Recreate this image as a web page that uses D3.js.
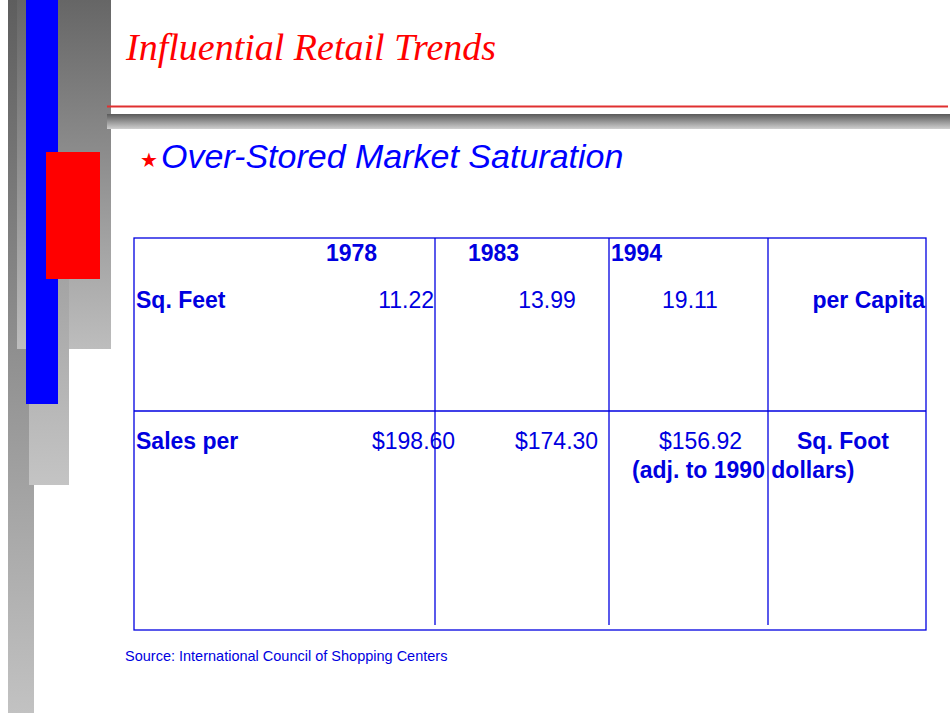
<!DOCTYPE html>
<html><head><meta charset="utf-8">
<script src="https://d3js.org/d3.v7.min.js"></script>
<style>body{margin:0;background:#fff}</style></head>
<body><svg id="c" width="950" height="713"></svg>
<script>
const years = ["1978", "1983", "1994"];
const sqFeetPerCapita = [11.22, 13.99, 19.11];
const salesPerSqFoot = [198.60, 174.30, 156.92];
const rowLabels = ["Sq. Feet", "Sales per"];
const unitLabels = ["per Capita", "Sq. Foot"];

const svg = d3.select("#c");
const defs = svg.append("defs");
function grad(id, a, b, vertical = true) {
  const g = defs.append("linearGradient").attr("id", id).attr("x1", 0).attr("y1", 0).attr("x2", 0).attr("y2", 1);
  g.append("stop").attr("offset", 0).attr("stop-color", a);
  g.append("stop").attr("offset", 1).attr("stop-color", b);
}
grad("g1", "#5e5e5e", "#c2c2c2");
grad("g2", "#666", "#bdbdbd");
grad("g3", "#a0a0a0", "#c4c4c4");
grad("g4", "#5a5a5a", "#cfcfcf");

svg.append("rect").attr("x", 8).attr("y", 0).attr("width", 26).attr("height", 713).attr("fill", "url(#g1)");
svg.append("rect").attr("x", 17).attr("y", 0).attr("width", 94).attr("height", 349).attr("fill", "url(#g2)");
svg.append("rect").attr("x", 29).attr("y", 256).attr("width", 40).attr("height", 229).attr("fill", "url(#g3)");
svg.append("rect").attr("x", 26).attr("y", 0).attr("width", 32).attr("height", 404).attr("fill", "#0000ff");
svg.append("rect").attr("x", 46).attr("y", 112).attr("width", 54).attr("height", 92).attr("fill", "none");
svg.append("rect").attr("x", 46).attr("y", 152).attr("width", 54).attr("height", 127).attr("fill", "#ff0000");
svg.append("rect").attr("x", 107).attr("y", 114).attr("width", 843).attr("height", 15).attr("fill", "url(#g4)");
svg.append("line").attr("x1", 107).attr("x2", 948).attr("y1", 106.5).attr("y2", 106.5).attr("stroke", "#e03030").attr("stroke-width", 2);

svg.append("text").attr("x", 126).attr("y", 60).attr("fill", "#ff0000")
  .style("font-family", "Liberation Serif, serif").style("font-style", "italic").style("font-size", "38px")
  .text("Influential Retail Trends");
svg.append("text").attr("x", 140).attr("y", 167).attr("fill", "#ff0000").style("font-size", "20px")
  .style("font-family", "DejaVu Sans").text("★");
svg.append("text").attr("x", 161).attr("y", 168).attr("fill", "#0000ff")
  .style("font-family", "Liberation Sans, Arial").style("font-style", "italic").style("font-size", "34px")
  .text("Over-Stored Market Saturation");

const blue = "#0000e0";
const T = {x0: 134, x1: 926, y0: 238, y1: 630, ymid: 411};
const colEdges = d3.scaleOrdinal().domain(years.concat(["unit"])).range([435, 609, 768, 926]);
const g = svg.append("g");
g.append("rect").attr("x", T.x0).attr("y", T.y0).attr("width", T.x1 - T.x0).attr("height", T.y1 - T.y0)
  .attr("fill", "none").attr("stroke", blue).attr("stroke-width", 1.3);
g.append("line").attr("x1", T.x0).attr("x2", T.x1).attr("y1", T.ymid).attr("y2", T.ymid).attr("stroke", blue).attr("stroke-width", 1.3);
g.selectAll("line.v").data(years).join("line").attr("class", "v")
  .attr("x1", d => colEdges(d)).attr("x2", d => colEdges(d)).attr("y1", T.y0).attr("y2", 625)
  .attr("stroke", blue).attr("stroke-width", 1.3);

const font = "Liberation Sans, Arial, sans-serif";
function txt(x, y, s, bold, anchor = "start") {
  return g.append("text").attr("x", x).attr("y", y).attr("fill", blue).attr("text-anchor", anchor)
    .style("font-family", font).style("font-size", "23px").style("font-weight", bold ? "bold" : "normal").text(s);
}
const headerX = [326, 468, 611];
years.forEach((y, i) => txt(headerX[i], 261, y, true));
txt(136, 308, rowLabels[0], true);
txt(136, 449, rowLabels[1], true);
const fmt = d3.format(".2f");
const sqX = [[434, "end"], [547, "middle"], [690, "middle"]];
sqFeetPerCapita.forEach((v, i) => txt(sqX[i][0], 308, fmt(v), false, sqX[i][1]));
const saX = [372, 515, 659];
salesPerSqFoot.forEach((v, i) => txt(saX[i], 449, "$" + fmt(v), false));
txt(925, 308, unitLabels[0], true, "end");
txt(797, 449, unitLabels[1], true);
txt(632, 478, "(adj. to 1990 dollars)", true);

svg.append("text").attr("x", 125).attr("y", 661).attr("fill", blue).style("font-family", font).style("font-size", "14.5px")
  .text("Source:  International Council of Shopping Centers");
</script></body></html>
